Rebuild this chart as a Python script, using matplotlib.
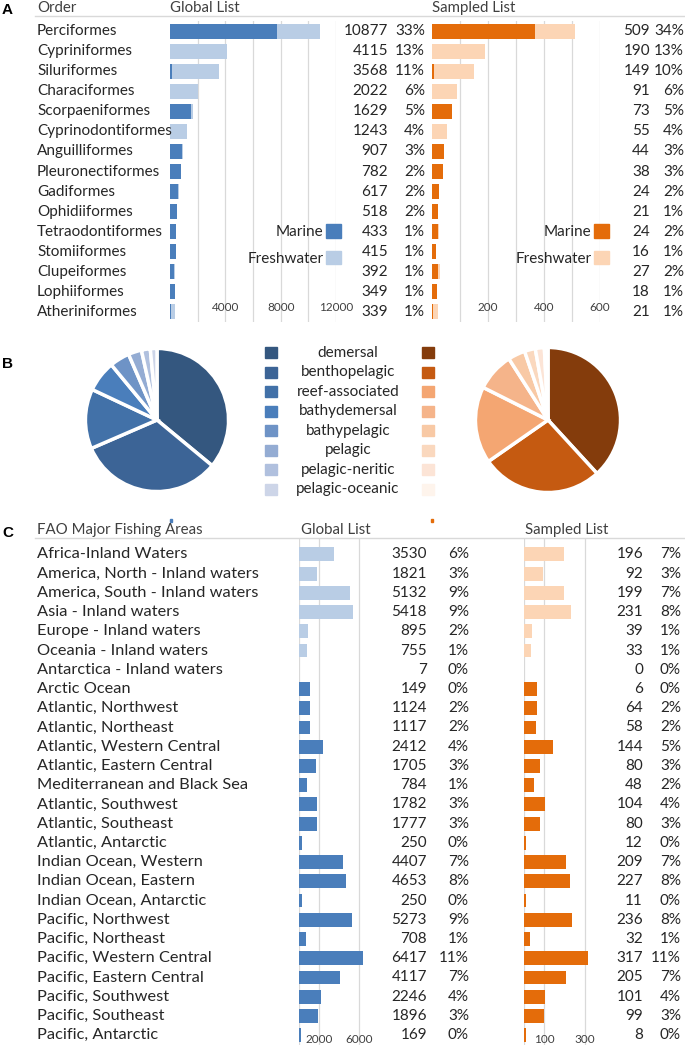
import numpy as np
import matplotlib.pyplot as plt
from matplotlib.patches import Patch, Rectangle
from matplotlib.transforms import blended_transform_factory

plt.rcParams['font.family'] = ['Lato', 'DejaVu Sans']

# ---- data: panel A (orders) ----
orders = ["Perciformes", "Cypriniformes", "Siluriformes", "Characiformes", "Scorpaeniformes",
          "Cyprinodontiformes", "Anguilliformes", "Pleuronectiformes", "Gadiformes", "Ophidiiformes",
          "Tetraodontiformes", "Stomiiformes", "Clupeiformes", "Lophiiformes", "Atheriniformes"]
order_global_marine = [7730, 0, 130, 0, 1540, 0, 880, 760, 610, 500, 400, 415, 290, 349, 90]
order_global_fresh = [3147, 4115, 3438, 2022, 89, 1243, 27, 22, 7, 18, 33, 0, 102, 0, 249]
order_global_total = [10877, 4115, 3568, 2022, 1629, 1243, 907, 782, 617, 518, 433, 415, 392, 349, 339]
order_global_pct = [33, 13, 11, 6, 5, 4, 3, 2, 2, 2, 1, 1, 1, 1, 1]
order_sampled_marine = [368, 0, 6, 0, 73, 0, 44, 38, 24, 21, 22, 16, 21, 18, 5]
order_sampled_fresh = [141, 190, 143, 91, 0, 55, 0, 0, 0, 0, 2, 0, 6, 0, 16]
order_sampled_total = [509, 190, 149, 91, 73, 55, 44, 38, 24, 21, 24, 16, 27, 18, 21]
order_sampled_pct = [34, 13, 10, 6, 5, 4, 3, 3, 2, 1, 2, 1, 2, 1, 1]

# ---- data: panel B (habitats) ----
habitats = ["demersal", "benthopelagic", "reef-associated", "bathydemersal",
            "bathypelagic", "pelagic", "pelagic-neritic", "pelagic-oceanic"]
habitat_global = [36, 32.5, 13.5, 7, 4.5, 3, 2, 1.5]
habitat_sampled = [38, 27, 17, 8.5, 3.8, 2.4, 2, 0.8]

# ---- data: panel C (FAO areas) ----
areas = ["Africa-Inland Waters", "America, North - Inland waters", "America, South - Inland waters",
         "Asia - Inland waters", "Europe - Inland waters", "Oceania - Inland waters",
         "Antarctica - Inland waters", "Arctic Ocean", "Atlantic, Northwest", "Atlantic, Northeast",
         "Atlantic, Western Central", "Atlantic, Eastern Central", "Mediterranean and Black Sea",
         "Atlantic, Southwest", "Atlantic, Southeast", "Atlantic, Antarctic", "Indian Ocean, Western",
         "Indian Ocean, Eastern", "Indian Ocean, Antarctic", "Pacific, Northwest", "Pacific, Northeast",
         "Pacific, Western Central", "Pacific, Eastern Central", "Pacific, Southwest",
         "Pacific, Southeast", "Pacific, Antarctic"]
area_inland = [True] * 7 + [False] * 19
area_global = [3530, 1821, 5132, 5418, 895, 755, 7, 149, 1124, 1117, 2412, 1705, 784,
               1782, 1777, 250, 4407, 4653, 250, 5273, 708, 6417, 4117, 2246, 1896, 169]
area_global_pct = [6, 3, 9, 9, 2, 1, 0, 0, 2, 2, 4, 3, 1, 3, 3, 0, 7, 8, 0, 9, 1, 11, 7, 4, 3, 0]
area_sampled = [196, 92, 199, 231, 39, 33, 0, 6, 64, 58, 144, 80, 48,
                104, 80, 12, 209, 227, 11, 236, 32, 317, 205, 101, 99, 8]
area_sampled_pct = [7, 3, 7, 8, 1, 1, 0, 0, 2, 2, 5, 3, 2, 4, 3, 0, 7, 8, 0, 8, 1, 11, 7, 4, 3, 0]
# bar lengths as drawn in the figure (Arctic Ocean bar is drawn longer than its label)
area_global_bar = [3530, 1821, 5132, 5418, 895, 755, 7, 1120, 1124, 1117, 2412, 1705, 784,
                   1782, 1777, 250, 4407, 4653, 250, 5273, 708, 6417, 4117, 2246, 1896, 169]
area_sampled_bar = [196, 92, 199, 231, 39, 33, 0, 66, 64, 58, 144, 80, 48,
                    104, 80, 12, 209, 227, 11, 236, 32, 317, 205, 101, 99, 8]

# ---- style ----
W, H = 685, 1045
TXT = '#262626'
HDR = '#404040'
GRID = '#d9d9d9'
BLUE, LBLUE = '#4a7ebb', '#b9cde5'
ORANGE, LORANGE = '#e46c0a', '#fcd5b5'
BLUES = ['#34577f', '#3c6496', '#4271a8', '#4a7ebb', '#6e93c6', '#94acd3', '#b0c0de', '#cdd5e8']
ORANGES = ['#843c0c', '#c55a11', '#f4a672', '#f5b48a', '#f8c9a5', '#fad8be', '#fce4d6', '#fef4ec']
FS = 11        # numbers, legends, order labels
FS_AREA = 11.8 # FAO area labels
FS_HDR = 10.8  # column headers

fig = plt.figure(figsize=(W / 100, H / 100), dpi=100)


def box(x0, y0, x1, y1):
    return [x0 / W, 1 - y1 / H, (x1 - x0) / W, (y1 - y0) / H]


def fx(x):
    return x / W


def fy(y):
    return 1 - y / H


def bar_panel(rect, xmax, grid_vals, label_vals, first, second, c1, c2, height, tick_dy):
    ax = fig.add_axes(rect)
    n = len(first)
    y = np.arange(n)
    ax.barh(y, first, height=height, color=c1, zorder=2)
    if second is not None:
        ax.barh(y, second, left=first, height=height, color=c2, zorder=2)
    ax.set_xlim(0, xmax)
    ax.set_ylim(n - 0.5, -0.5)
    for v in grid_vals:
        ax.axvline(v, color=GRID, lw=0.9, zorder=0)
    for v in label_vals:
        ax.text(v, n - 1 + tick_dy, f'{v}', ha='center', va='center', fontsize=8.5, color=HDR)
    ax.axis('off')
    return ax


def number_cols(ax, counts, pcts, x_count, x_pct):
    tr = blended_transform_factory(fig.transFigure, ax.transData)
    for i, (c, p) in enumerate(zip(counts, pcts)):
        ax.text(fx(x_count), i, f'{c}', transform=tr, ha='right', va='center', fontsize=FS, color=TXT)
        ax.text(fx(x_pct), i, f'{p}%', transform=tr, ha='right', va='center', fontsize=FS, color=TXT)


def row_labels(ax, labels, x, size):
    tr = blended_transform_factory(fig.transFigure, ax.transData)
    for i, lab in enumerate(labels):
        ax.text(fx(x), i, lab, transform=tr, ha='left', va='center', fontsize=size, color=TXT)


# ================= A =================
fig.text(fx(2), fy(10), 'A', fontsize=11, fontweight='bold', family='Liberation Sans', va='center')
fig.text(fx(37), fy(8), 'Order', fontsize=FS_HDR, color=HDR, va='center')
fig.text(fx(170), fy(8), 'Global List', fontsize=FS_HDR, color=HDR, va='center')
fig.text(fx(432), fy(8), 'Sampled List', fontsize=FS_HDR, color=HDR, va='center')
fig.add_artist(plt.Line2D([fx(35), 1], [fy(16), fy(16)], color=GRID, lw=1))

axA1 = bar_panel(box(170, 21, 336, 322), 12000, np.arange(2000, 12001, 2000), [4000, 8000, 12000],
                 order_global_marine, order_global_fresh, BLUE, LBLUE, 0.75, -0.2)
axA2 = bar_panel(box(432, 21, 600, 322), 600, np.arange(100, 601, 100), [200, 400, 600],
                 order_sampled_marine, order_sampled_fresh, ORANGE, LORANGE, 0.75, -0.2)
row_labels(axA1, orders, 37, FS)
number_cols(axA1, order_global_total, order_global_pct, 388, 425)
number_cols(axA2, order_sampled_total, order_sampled_pct, 650, 684)

for ax, c1, c2, xr in [(axA1, BLUE, LBLUE, 341), (axA2, ORANGE, LORANGE, 609)]:
    ax.legend(handles=[Patch(color=c1), Patch(color=c2)], labels=['Marine', 'Freshwater'],
              markerfirst=False, frameon=False, loc='upper right',
              bbox_to_anchor=(fx(xr), fy(224)), bbox_transform=fig.transFigure,
              fontsize=FS, labelcolor=TXT, handlelength=1.0, handleheight=1.0,
              handletextpad=0.15, labelspacing=0.75, borderpad=0, borderaxespad=0)

# ================= B =================
fig.text(fx(2), fy(364), 'B', fontsize=11, fontweight='bold', family='Liberation Sans', va='center')
for rect, vals, cols in [(box(84, 347, 230, 493), habitat_global, BLUES),
                         (box(474, 346, 622, 494), habitat_sampled, ORANGES)]:
    ax = fig.add_axes(rect)
    ax.pie(vals, colors=cols, startangle=90, counterclock=False,
           wedgeprops=dict(edgecolor='white', linewidth=2.5))
    ax.set_xlim(-1.02, 1.02)
    ax.set_ylim(-1.02, 1.02)
    ax.axis('off')

for i, name in enumerate(habitats):
    yc = 352.7 + i * 19.5
    fig.patches.append(Rectangle((fx(265), fy(yc + 5.5)), 12 / W, 11 / H, color=BLUES[i],
                                 transform=fig.transFigure))
    fig.patches.append(Rectangle((fx(422), fy(yc + 5.5)), 12 / W, 11 / H, color=ORANGES[i],
                                 transform=fig.transFigure))
    fig.text(fx(348), fy(yc), name, ha='center', va='center', fontsize=FS, color=TXT)

fig.patches.append(Rectangle((fx(170), fy(522)), 2 / W, 3 / H, color=BLUE, transform=fig.transFigure))
fig.patches.append(Rectangle((fx(431), fy(522)), 2 / W, 3 / H, color=ORANGE, transform=fig.transFigure))

# ================= C =================
fig.text(fx(2), fy(533), 'C', fontsize=11, fontweight='bold', family='Liberation Sans', va='center')
fig.text(fx(37), fy(530), 'FAO Major Fishing Areas', fontsize=FS_HDR, color=HDR, va='center')
fig.text(fx(301), fy(530), 'Global List', fontsize=FS_HDR, color=HDR, va='center')
fig.text(fx(525), fy(530), 'Sampled List', fontsize=FS_HDR, color=HDR, va='center')
fig.add_artist(plt.Line2D([fx(35), 1], [fy(538), fy(538)], color=GRID, lw=1))

g_cols = [LBLUE if f else BLUE for f in area_inland]
s_cols = [LORANGE if f else ORANGE for f in area_inland]
axC1 = bar_panel(box(299, 539, 364, 1044.8), 6500, [0, 2000, 6000], [2000, 6000],
                 area_global_bar, None, g_cols, None, 0.72, 0.2)
axC1.set_ylim(25.5, -0.8)
axC2 = bar_panel(box(524, 539, 591, 1044.8), 330, [0, 100, 300], [100, 300],
                 area_sampled_bar, None, s_cols, None, 0.72, 0.2)
axC2.set_ylim(25.5, -0.8)
row_labels(axC1, areas, 37, FS_AREA)
number_cols(axC1, area_global, area_global_pct, 427, 469)
number_cols(axC2, area_sampled, area_sampled_pct, 643, 681)

fig.savefig('out.png', dpi=100)
